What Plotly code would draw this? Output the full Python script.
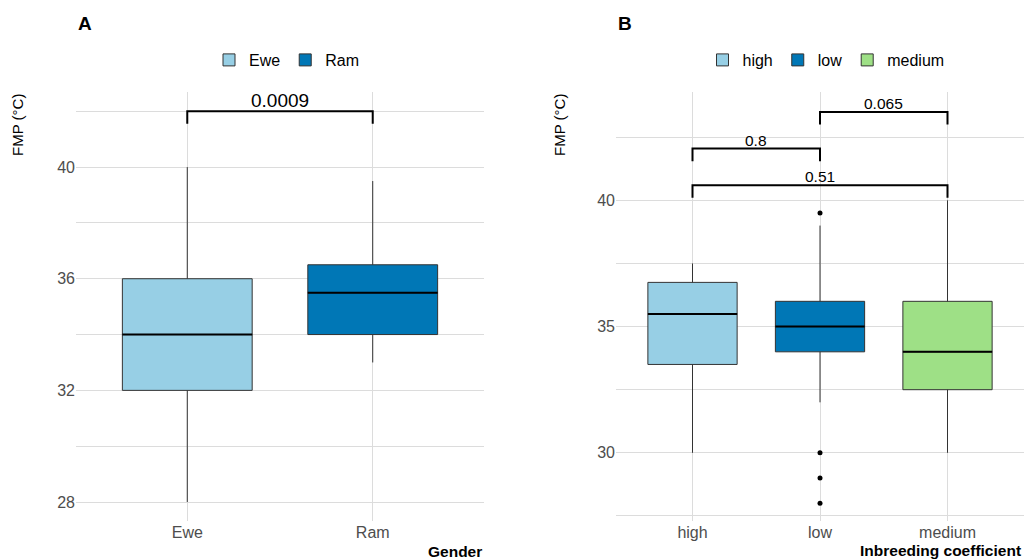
import plotly.graph_objects as go

# ---------------- data ----------------
gender_cats = ["Ewe", "Ram"]
gender_q1 = [32.0, 34.0]
gender_median = [34.0, 35.5]
gender_q3 = [36.0, 36.5]
gender_low = [28.0, 33.0]
gender_high = [40.0, 39.5]
gender_colors = ["#97CFE5", "#0077B6"]

inb_cats = ["high", "low", "medium"]
inb_q1 = [33.5, 34.0, 32.5]
inb_median = [35.5, 35.0, 34.0]
inb_q3 = [36.75, 36.0, 36.0]
inb_low = [30.0, 32.0, 30.0]
inb_high = [37.5, 39.0, 40.0]
inb_colors = ["#97CFE5", "#0077B6", "#9EE086"]
inb_outlier_cat = ["low", "low", "low", "low"]
inb_outlier_val = [39.5, 30.0, 29.0, 28.0]

# significance brackets: (group1, group2, y, label)
gender_brackets = [("Ewe", "Ram", 42.0, "0.0009")]
inb_brackets = [("low", "medium", 43.5, "0.065"),
                ("high", "low", 42.05, "0.8"),
                ("high", "medium", 40.6, "0.51")]

FONT = "Liberation Sans, Arial, sans-serif"
GRID = "#DCDCDC"
TICKC = "#4D4D4D"
BOXW = 0.7

fig = go.Figure()

for i, c in enumerate(gender_cats):
    fig.add_trace(go.Box(
        x=[c], q1=[gender_q1[i]], median=[gender_median[i]], q3=[gender_q3[i]],
        lowerfence=[gender_low[i]], upperfence=[gender_high[i]],
        name=c, fillcolor=gender_colors[i], line=dict(color="#333333", width=1),
        whiskerwidth=0, width=BOXW, boxpoints=False,
        xaxis="x", yaxis="y", legend="legend", hoverinfo="skip"))

for i, c in enumerate(inb_cats):
    fig.add_trace(go.Box(
        x=[c], q1=[inb_q1[i]], median=[inb_median[i]], q3=[inb_q3[i]],
        lowerfence=[inb_low[i]], upperfence=[inb_high[i]],
        name=c, fillcolor=inb_colors[i], line=dict(color="#333333", width=1),
        whiskerwidth=0, width=BOXW, boxpoints=False,
        xaxis="x2", yaxis="y2", legend="legend2", hoverinfo="skip"))

fig.add_trace(go.Scatter(
    x=inb_outlier_cat, y=inb_outlier_val, mode="markers",
    marker=dict(color="black", size=5), showlegend=False,
    xaxis="x2", yaxis="y2", hoverinfo="skip"))

shapes = []
annotations = []

# thicker median lines (ggplot style)
for i in range(len(gender_cats)):
    shapes.append(dict(type="line", xref="x", yref="y",
                       x0=i - BOXW / 2, x1=i + BOXW / 2,
                       y0=gender_median[i], y1=gender_median[i],
                       line=dict(color="black", width=2)))
for i in range(len(inb_cats)):
    shapes.append(dict(type="line", xref="x2", yref="y2",
                       x0=i - BOXW / 2, x1=i + BOXW / 2,
                       y0=inb_median[i], y1=inb_median[i],
                       line=dict(color="black", width=2)))


def add_bracket(cats, g1, g2, yv, label, xr, yr, tip, fsize):
    a = cats.index(g1)
    b = cats.index(g2)
    shapes.append(dict(type="path", xref=xr, yref=yr,
                       path=f"M {a},{yv - tip} L {a},{yv} L {b},{yv} L {b},{yv - tip}",
                       line=dict(color="black", width=2)))
    annotations.append(dict(x=(a + b) / 2, y=yv, xref=xr, yref=yr, text=label,
                            showarrow=False, yanchor="bottom", yshift=-2,
                            font=dict(family=FONT, size=fsize, color="black")))


for g1, g2, yv, lab in gender_brackets:
    add_bracket(gender_cats, g1, g2, yv, lab, "x", "y", 0.45, 19)
for g1, g2, yv, lab in inb_brackets:
    add_bracket(inb_cats, g1, g2, yv, lab, "x2", "y2", 0.5, 15.5)

W, H = 1027, 559

# panel letters
annotations.append(dict(x=76 / W, y=1 - 23 / H, xref="paper", yref="paper", text="<b>A</b>",
                        showarrow=False, xanchor="left", yanchor="middle",
                        font=dict(family=FONT, size=19, color="black")))
annotations.append(dict(x=616 / W, y=1 - 23 / H, xref="paper", yref="paper", text="<b>B</b>",
                        showarrow=False, xanchor="left", yanchor="middle",
                        font=dict(family=FONT, size=19, color="black")))
# y titles
for xp in (18, 560):
    annotations.append(dict(x=xp / W, y=1 - 92 / H, xref="paper", yref="paper",
                            text="FMP (°C)", textangle=-90, showarrow=False,
                            xanchor="center", yanchor="top",
                            font=dict(family=FONT, size=15, color="black")))
# x titles
annotations.append(dict(x=484 / W, y=1 - 551 / H, xref="paper", yref="paper", text="<b>Gender</b>",
                        showarrow=False, xanchor="right", yanchor="middle",
                        font=dict(family=FONT, size=15.5, color="black")))
annotations.append(dict(x=1023 / W, y=1 - 550 / H, xref="paper", yref="paper",
                        text="<b>Inbreeding coefficient</b>",
                        showarrow=False, xanchor="right", yanchor="middle",
                        font=dict(family=FONT, size=15.5, color="black")))

ydom = [1 - 521 / H, 1 - 92 / H]
axis_common = dict(showline=False, zeroline=False, ticks="", gridcolor=GRID, gridwidth=1,
                   tickfont=dict(family=FONT, size=16, color=TICKC))

fig.update_layout(
    width=W, height=H,
    margin=dict(l=0, r=0, t=0, b=0),
    plot_bgcolor="white", paper_bgcolor="white",
    font=dict(family=FONT),
    showlegend=True,
    xaxis=dict(domain=[76 / W, 484 / W], type="category", categoryorder="array",
               categoryarray=gender_cats, range=[-0.6, 1.6], anchor="y", **axis_common),
    yaxis=dict(domain=ydom, range=[27.32, 42.69], tickvals=[28, 32, 36, 40],
               minor=dict(dtick=2, tick0=28, showgrid=True, gridcolor=GRID, gridwidth=1),
               anchor="x", **axis_common),
    xaxis2=dict(domain=[616 / W, 1024 / W], type="category", categoryorder="array",
                categoryarray=inb_cats, range=[-0.6, 2.6], anchor="y2", **axis_common),
    yaxis2=dict(domain=ydom, range=[27.3, 44.29], tickvals=[30, 35, 40],
                minor=dict(dtick=2.5, tick0=27.5, showgrid=True, gridcolor=GRID, gridwidth=1),
                anchor="x2", **axis_common),
    legend=dict(orientation="h", x=287 / W, y=1 - 60 / H, xanchor="center", yanchor="middle",
                font=dict(family=FONT, size=16, color="black"), bgcolor="rgba(0,0,0,0)",
                itemwidth=30, tracegroupgap=0),
    legend2=dict(orientation="h", x=826 / W, y=1 - 60 / H, xanchor="center", yanchor="middle",
                 font=dict(family=FONT, size=16, color="black"), bgcolor="rgba(0,0,0,0)",
                 itemwidth=30, tracegroupgap=0),
    shapes=shapes,
    annotations=annotations,
)

fig.write_html("out.html", config={"displayModeBar": False},
               post_script="document.body.style.margin='0px';document.body.style.overflow='hidden';")
